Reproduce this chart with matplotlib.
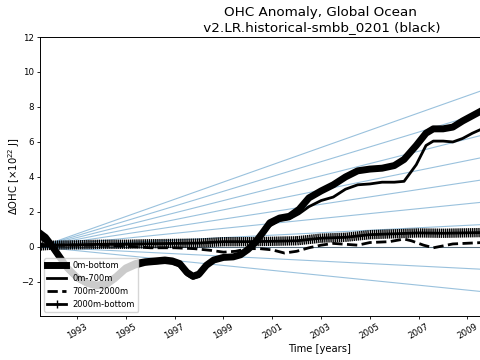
import numpy as np
import matplotlib
matplotlib.use('Agg')
from matplotlib import pyplot as plt
from matplotlib import patheffects as pe
from matplotlib.lines import Line2D

# years and OHC anomaly [10^22 J]
yr_tot=[1991.48,1991.7,1992.0,1992.3,1992.6,1993.0,1993.4,1993.8,1994.2,1994.6,1995.0,1995.4,
        1995.8,1996.2,1996.6,1996.9,1997.2,1997.5,1997.75,1998.0,1998.3,1998.6,1999.0,1999.4,
        1999.7,2000.0,2000.3,2000.6,2000.9,2001.3,2001.7,2002.1,2002.5,2003.0,2003.5,2004.0,
        2004.5,2005.0,2005.5,2006.0,2006.4,2006.9,2007.3,2007.6,2008.0,2008.4,2008.8,2009.2,2009.6]
ohc_tot=[0.78,0.55,0.0,-0.6,-1.2,-1.75,-2.05,-2.18,-2.1,-1.7,-1.2,-0.95,
         -0.85,-0.8,-0.75,-0.8,-0.95,-1.45,-1.68,-1.55,-1.05,-0.75,-0.6,-0.57,
         -0.45,-0.15,0.25,0.8,1.38,1.65,1.75,2.15,2.8,3.2,3.55,4.0,
         4.35,4.45,4.5,4.65,5.0,5.8,6.5,6.75,6.75,6.85,7.2,7.5,7.8]
ohc_700=[0.5,0.3,-0.15,-0.75,-1.35,-1.9,-2.2,-2.35,-2.3,-1.9,-1.4,-1.15,
         -1.0,-0.95,-0.9,-0.95,-1.1,-1.6,-1.8,-1.7,-1.15,-0.8,-0.6,-0.5,
         -0.4,-0.15,0.2,0.7,1.2,1.5,1.6,1.9,2.3,2.65,2.85,3.3,
         3.55,3.6,3.7,3.7,3.75,4.7,5.8,6.05,6.05,6.0,6.2,6.5,6.75]

yr_mid=[1991.48,1992.0,1993.0,1994.0,1995.0,1996.0,1997.0,1997.8,1998.5,1999.0,1999.5,2000.0,
        2000.5,2001.0,2001.5,2002.0,2002.5,2003.0,2003.5,2004.5,2005.0,2005.8,2006.4,2006.7,
        2007.2,2007.6,2008.4,2009.6]
ohc_mid=[0.15,0.1,0.1,0.1,0.05,-0.05,-0.05,-0.1,-0.2,-0.3,-0.25,-0.1,
         -0.1,-0.17,-0.35,-0.25,-0.05,0.1,0.2,0.1,0.25,0.3,0.45,0.35,
         0.1,-0.05,0.17,0.25]

yr_deep=[1991.48,1992,1993,1994,1995,1996,1997,1998,1999,2000,2001,2002,2003,2004,2005,2006,2007,2008,2009.6]
ohc_deep=[0.05,0.1,0.12,0.15,0.15,0.18,0.2,0.22,0.3,0.3,0.32,0.35,0.5,0.55,0.7,0.75,0.8,0.78,0.82]

# reference trend lines [10^22 J / yr]
rates=[-0.141,-0.0705,0.0,0.0705,0.141,0.2115,0.282,0.3525,0.423,0.4935]

x0=1991.48
x1=2014.43
tick_years=[1993,1995,1997,1999,2001,2003,2005,2007,2009]

fig=plt.figure(figsize=(4.8,3.6), dpi=100)
ax=fig.add_axes([0.0833,0.1222,1.1667,0.775])

for r in rates:
    ax.plot([x0,x1],[0,r*(x1-x0)], color='C0', lw=0.8, alpha=0.45, zorder=1)
ax.axhline(0, color='k', lw=0.6, alpha=0.5, zorder=1)

h1,=ax.plot(yr_tot, ohc_tot, 'k-', lw=5, label='0m-bottom')
h2,=ax.plot(yr_tot, ohc_700, 'k-', lw=2, label='0m-700m')
h3,=ax.plot(yr_mid, ohc_mid, 'k--', lw=2, label='700m-2000m')
ax.plot(yr_deep, ohc_deep, 'k-', lw=2,
        path_effects=[pe.TickedStroke(spacing=1.5, angle=90, length=1.9, linewidth=1.0),
                      pe.TickedStroke(spacing=1.5, angle=-90, length=1.9, linewidth=1.0),
                      pe.Normal()])
h4=Line2D([],[], color='k', lw=2, marker='+', markersize=6)

ax.set_xlim(x0,x1)
ax.set_ylim(-3.95,12)
ax.set_yticks([-2,0,2,4,6,8,10,12])
ax.set_xticks(tick_years)
ax.set_xticklabels([str(y) for y in tick_years], rotation=30, ha='center')
ax.tick_params(labelsize=6.2, length=2.5, width=0.6, pad=2)
for s in ax.spines.values():
    s.set_linewidth(0.7)

ax.set_xlabel('Time [years]', fontsize=7.2, labelpad=2)
ax.set_ylabel(r'$\Delta$OHC [$\times10^{22}$ J]', fontsize=7.2, labelpad=-1)
ax.set_title('OHC Anomaly, Global Ocean\n v2.LR.historical-smbb_0201 (black)', fontsize=9.7, pad=4)
ax.legend([h1,h2,h3,h4], ['0m-bottom','0m-700m','700m-2000m','2000m-bottom'],
          loc='lower left', fontsize=6, numpoints=1, handlelength=2.2, borderpad=0.4, labelspacing=0.45)

plt.savefig('out.png', dpi=100)
